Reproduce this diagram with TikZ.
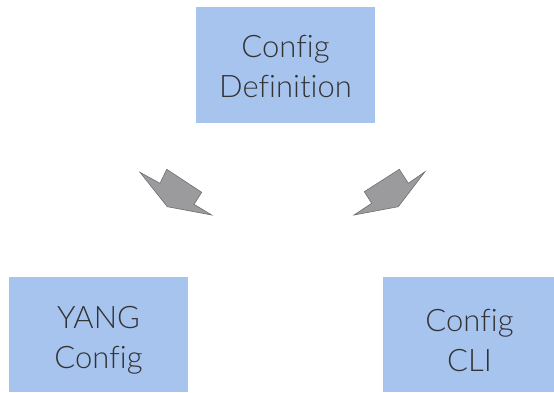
\documentclass[tikz,border=0pt]{standalone}
\usepackage{fontspec}
\setmainfont{Lato Light}[Ligatures=NoCommon]
\begin{document}
\begin{tikzpicture}[x=1pt,y=-1pt,
  box/.style={draw=none,fill=boxblue,inner sep=0pt},
  boxtext/.style={inner sep=0pt,align=center,
    font=\fontsize{31}{40}\selectfont,text=txtgray},
  bigarrow/.style={fill=arrgray,draw=arredge,line width=0.6pt,line join=miter}]
\definecolor{boxblue}{HTML}{A6C4EE}
\definecolor{txtgray}{HTML}{333333}
\definecolor{arrgray}{HTML}{9B9B9D}
\definecolor{arredge}{HTML}{6E6E70}
\useasboundingbox[fill=white] (0,0) rectangle (554,392);
\node[box,minimum width=179pt,minimum height=116pt] (def) at (285.5,65) {};
\node[box,minimum width=179pt,minimum height=115pt] (yang) at (98.5,334.5) {};
\node[box,minimum width=171pt,minimum height=115pt] (cli) at (468.5,334.5) {};
\node[boxtext] (deft) at ([yshift=-2pt]def.center) {Config\\Definition};
\node[boxtext] (yangt) at ([yshift=-6pt]yang.center) {YANG\\Config};
\node[boxtext] (clit) at ([xshift=1pt,yshift=-6pt]cli.center) {Config\\CLI};
\draw[bigarrow] (140,172.3) -- (160,183.3) -- (166.7,169.3) -- (201.7,192.3)
  -- (194,204.3) -- (211.7,215) -- (167.3,206.7) -- cycle;
\draw[bigarrow] (354,215) -- (371.7,203.3) -- (364.3,191.7) -- (399.3,169.3)
  -- (408.3,183.3) -- (425,171.7) -- (398.3,206.7) -- cycle;
\end{tikzpicture}
\end{document}
